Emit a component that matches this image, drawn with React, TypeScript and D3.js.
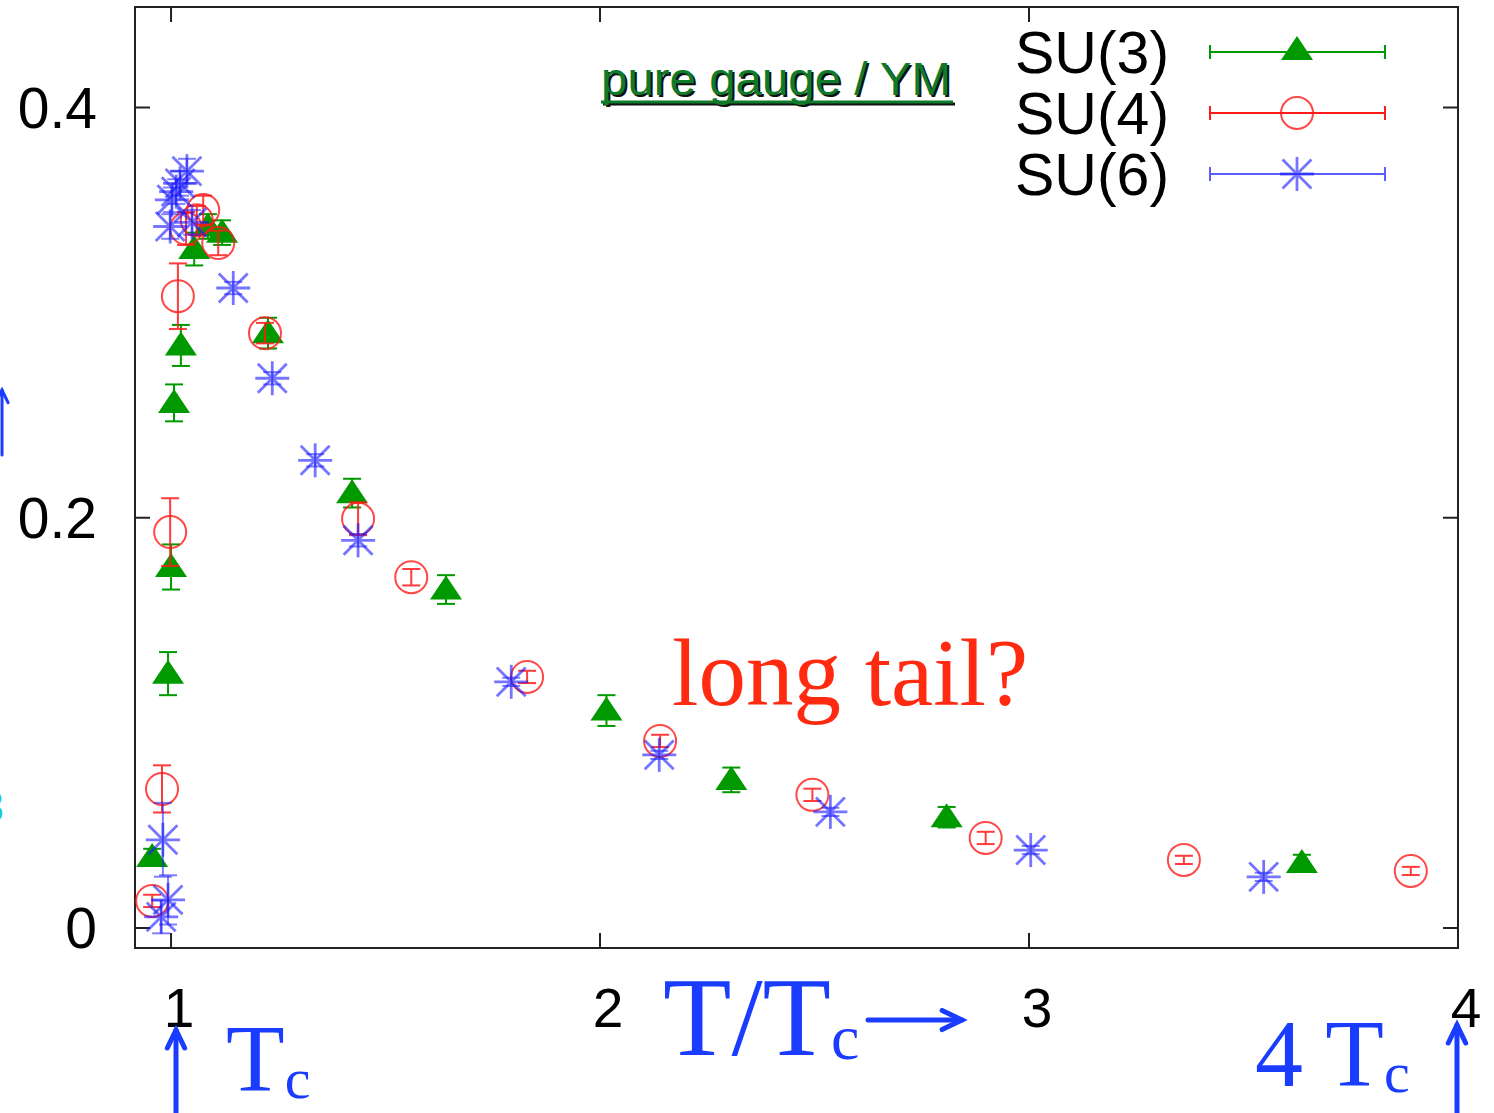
import React from "react";
import * as d3 from "d3";

// Series: [T/Tc, value, error]
const su3: [number, number, number][] = [
  [0.956, 0.0346, 0.004],
  [0.993, 0.124, 0.0105],
  [1.0, 0.176, 0.011],
  [1.007, 0.256, 0.009],
  [1.023, 0.284, 0.01],
  [1.054, 0.331, 0.008],
  [1.086, 0.342, 0.006],
  [1.119, 0.339, 0.006],
  [1.226, 0.29, 0.0075],
  [1.422, 0.212, 0.007],
  [1.641, 0.165, 0.007],
  [2.015, 0.106, 0.0075],
  [2.306, 0.0722, 0.006],
  [2.808, 0.054, 0.005],
  [3.636, 0.0317, 0.004],
];

const su4: [number, number, number][] = [
  [0.956, 0.0132, 0.003],
  [0.979, 0.0678, 0.0115],
  [0.998, 0.193, 0.0165],
  [1.016, 0.308, 0.016],
  [1.035, 0.341, 0.008],
  [1.06, 0.345, 0.007],
  [1.075, 0.35, 0.007],
  [1.11, 0.334, 0.006],
  [1.219, 0.29, 0.005],
  [1.436, 0.1995, 0.008],
  [1.56, 0.171, 0.004],
  [1.83, 0.1224, 0.003],
  [2.14, 0.0912, 0.003],
  [2.495, 0.0649, 0.003],
  [2.899, 0.0439, 0.003],
  [3.361, 0.0332, 0.002],
  [3.89, 0.0278, 0.002],
];

const su6: [number, number, number][] = [
  [0.981, 0.043, 0.018],
  [0.993, 0.0137, 0.012],
  [0.977, 0.0054, 0.008],
  [0.998, 0.342, 0.006],
  [1.002, 0.355, 0.006],
  [1.012, 0.359, 0.006],
  [1.021, 0.363, 0.006],
  [1.037, 0.369, 0.006],
  [1.049, 0.344, 0.006],
  [1.145, 0.312, 0.003],
  [1.236, 0.268, 0.003],
  [1.336, 0.228, 0.003],
  [1.436, 0.189, 0.003],
  [1.793, 0.12, 0.002],
  [2.138, 0.0844, 0.002],
  [2.537, 0.0566, 0.002],
  [3.004, 0.038, 0.002],
  [3.547, 0.0249, 0.002],
];

const xTicks = [1, 2, 3, 4];
const yTicks = [0, 0.2, 0.4];
const legendLabels = ["SU(3)", "SU(4)", "SU(6)"];

const W = 1494;
const H = 1113;
const M = { left: 135, right: 1458, top: 7, bottom: 948 };

const GREEN = "#009a00";
const RED = "#ff1a1a";
const BLUE = "#1a1aff";
const SANS = "'Liberation Sans', Arial, sans-serif";
const SERIF = "'Liberation Serif', 'Times New Roman', serif";

const x = d3.scaleLinear().domain([0.916, 4.0]).range([M.left, M.right]);
const y = d3.scaleLinear().domain([-0.00976, 0.449]).range([M.bottom, M.top]);

const CAP = 9;

function ErrBar({ cx, lo, hi, color, opacity = 1, width = 2 }: any) {
  return (
    <g stroke={color} strokeWidth={width} opacity={opacity}>
      <line x1={cx} x2={cx} y1={lo} y2={hi} />
      <line x1={cx - CAP} x2={cx + CAP} y1={lo} y2={lo} />
      <line x1={cx - CAP} x2={cx + CAP} y1={hi} y2={hi} />
    </g>
  );
}

function Triangle({ cx, cy }: any) {
  const p = d3.path();
  p.moveTo(cx, cy - 14);
  p.lineTo(cx + 16, cy + 10);
  p.lineTo(cx - 16, cy + 10);
  p.closePath();
  return <path d={p.toString()} fill={GREEN} />;
}

function Circle({ cx, cy }: any) {
  return <circle cx={cx} cy={cy} r={16} fill="none" stroke={RED} strokeWidth={2} opacity={0.8} />;
}

function Asterisk({ cx, cy, s = 17 }: any) {
  const d = s * 0.85;
  return (
    <g stroke={BLUE} strokeWidth={2.8} opacity={0.6}>
      <line x1={cx - s} x2={cx + s} y1={cy} y2={cy} />
      <line x1={cx} x2={cx} y1={cy - s} y2={cy + s} />
      <line x1={cx - d} x2={cx + d} y1={cy - d} y2={cy + d} />
      <line x1={cx - d} x2={cx + d} y1={cy + d} y2={cy - d} />
      <circle cx={cx} cy={cy} r={3} fill={BLUE} stroke="none" />
    </g>
  );
}

function Arrow({ x1, y1, x2, y2, color, width = 5, head = 18 }: any) {
  const ang = Math.atan2(y2 - y1, x2 - x1);
  const a1 = ang + Math.PI - 0.45;
  const a2 = ang + Math.PI + 0.45;
  return (
    <g stroke={color} strokeWidth={width} fill="none" strokeLinecap="round">
      <line x1={x1} y1={y1} x2={x2} y2={y2} />
      <polyline
        points={`${x2 + head * Math.cos(a1)},${y2 + head * Math.sin(a1)} ${x2},${y2} ${x2 + head * Math.cos(a2)},${y2 + head * Math.sin(a2)}`}
      />
    </g>
  );
}

export default function App() {
  const legendY = [52, 113, 174];
  return (
    <svg
      width={W}
      height={H}
      viewBox={`0 0 ${W} ${H}`}
      style={{ position: "absolute", left: 0, top: 0, background: "#fff" }}
    >
      <rect x={0} y={0} width={W} height={H} fill="#fff" />

      {/* frame */}
      <rect
        x={M.left}
        y={M.top}
        width={M.right - M.left}
        height={M.bottom - M.top}
        fill="none"
        stroke="#222"
        strokeWidth={2}
      />

      {/* ticks */}
      {xTicks.map((t) => (
        <g key={"xt" + t} stroke="#222" strokeWidth={2}>
          <line x1={x(t)} x2={x(t)} y1={M.bottom} y2={M.bottom - 15} />
          <line x1={x(t)} x2={x(t)} y1={M.top} y2={M.top + 15} />
        </g>
      ))}
      {yTicks.map((t) => (
        <g key={"yt" + t} stroke="#222" strokeWidth={2}>
          <line x1={M.left} x2={M.left + 15} y1={y(t)} y2={y(t)} />
          <line x1={M.right} x2={M.right - 15} y1={y(t)} y2={y(t)} />
        </g>
      ))}
      {xTicks.map((t) => (
        <text
          key={"xl" + t}
          x={x(t) + 8}
          y={1027}
          textAnchor="middle"
          fontFamily={SANS}
          fontSize={55}
          fill="#000"
        >
          {d3.format("d")(t)}
        </text>
      ))}
      {yTicks.map((t) => (
        <text
          key={"yl" + t}
          x={97}
          y={y(t) + 20}
          textAnchor="end"
          fontFamily={SANS}
          fontSize={57}
          fill="#000"
        >
          {t === 0 ? "0" : d3.format(".1f")(t)}
        </text>
      ))}

      {/* SU(3) */}
      {su3.map(([tx, v, e], i) => (
        <g key={"a" + i}>
          <ErrBar cx={x(tx)} lo={y(v - e)} hi={y(v + e)} color={GREEN} />
          <Triangle cx={x(tx)} cy={y(v)} />
        </g>
      ))}
      {/* SU(4) */}
      {su4.map(([tx, v, e], i) => (
        <g key={"b" + i}>
          <ErrBar cx={x(tx)} lo={y(v - e)} hi={y(v + e)} color={RED} opacity={0.85} />
          <Circle cx={x(tx)} cy={y(v)} />
        </g>
      ))}
      {/* SU(6) */}
      {su6.map(([tx, v, e], i) => (
        <g key={"c" + i}>
          <ErrBar cx={x(tx)} lo={y(v - e)} hi={y(v + e)} color={BLUE} opacity={0.55} />
          <Asterisk cx={x(tx)} cy={y(v)} />
        </g>
      ))}

      {/* legend */}
      {legendLabels.map((lab, i) => (
        <g key={"lg" + i}>
          <text x={1015} y={legendY[i] + 21} fontFamily={SANS} fontSize={59} fill="#000">
            {lab}
          </text>
          <g stroke={[GREEN, RED, BLUE][i]} strokeWidth={2} opacity={i === 2 ? 0.7 : 1}>
            <line x1={1210} x2={1385} y1={legendY[i]} y2={legendY[i]} />
            <line x1={1210} x2={1210} y1={legendY[i] - 7} y2={legendY[i] + 7} />
            <line x1={1385} x2={1385} y1={legendY[i] - 7} y2={legendY[i] + 7} />
          </g>
          {i === 0 && <Triangle cx={1297} cy={legendY[i] - 2} />}
          {i === 1 && <Circle cx={1297} cy={legendY[i]} />}
          {i === 2 && <Asterisk cx={1297} cy={legendY[i]} />}
        </g>
      ))}

      {/* title */}
      <g fontFamily={SANS} fontSize={46}>
        <text x={603} y={97} fill="#111" textLength={350} lengthAdjust="spacingAndGlyphs">
          pure gauge / YM
        </text>
        <line x1={603} x2={955} y1={104} y2={104} stroke="#111" strokeWidth={3} />
        <text x={601} y={95} fill="#0e7a2a" textLength={350} lengthAdjust="spacingAndGlyphs">
          pure gauge / YM
        </text>
        <line x1={601} x2={953} y1={102} y2={102} stroke="#0e7a2a" strokeWidth={3} />
      </g>

      {/* annotation */}
      <text x={672} y={705} fontFamily={SERIF} fontSize={95} fill="#ff2a10">
        long tail?
      </text>

      {/* axis annotations */}
      <text x={663} y={1055} fontFamily={SERIF} fontSize={112} fill="#1a3cff">
        T/T
        <tspan fontSize={64} dy={4}>c</tspan>
      </text>
      <Arrow x1={868} y1={1020} x2={962} y2={1020} color="#1a3cff" width={5} head={22} />

      <Arrow x1={176} y1={1113} x2={176} y2={1030} color="#1a3cff" width={5} head={20} />
      <text x={226} y={1091} fontFamily={SERIF} fontSize={96} fill="#1a3cff">
        T
        <tspan fontSize={58} dy={7}>c</tspan>
      </text>

      <text x={1255} y={1086} fontFamily={SERIF} fontSize={96} fill="#1a3cff">
        4 T
        <tspan fontSize={58} dy={6}>c</tspan>
      </text>
      <Arrow x1={1457} y1={1113} x2={1457} y2={1025} color="#1a3cff" width={5} head={20} />

      {/* left-edge markers */}
      <Arrow x1={2} y1={455} x2={2} y2={390} color="#1a3cff" width={3} head={14} />
      <text x={4} y={822} textAnchor="end" fontFamily={SANS} fontSize={44} fill="#19c8d8">
        3
      </text>
    </svg>
  );
}
